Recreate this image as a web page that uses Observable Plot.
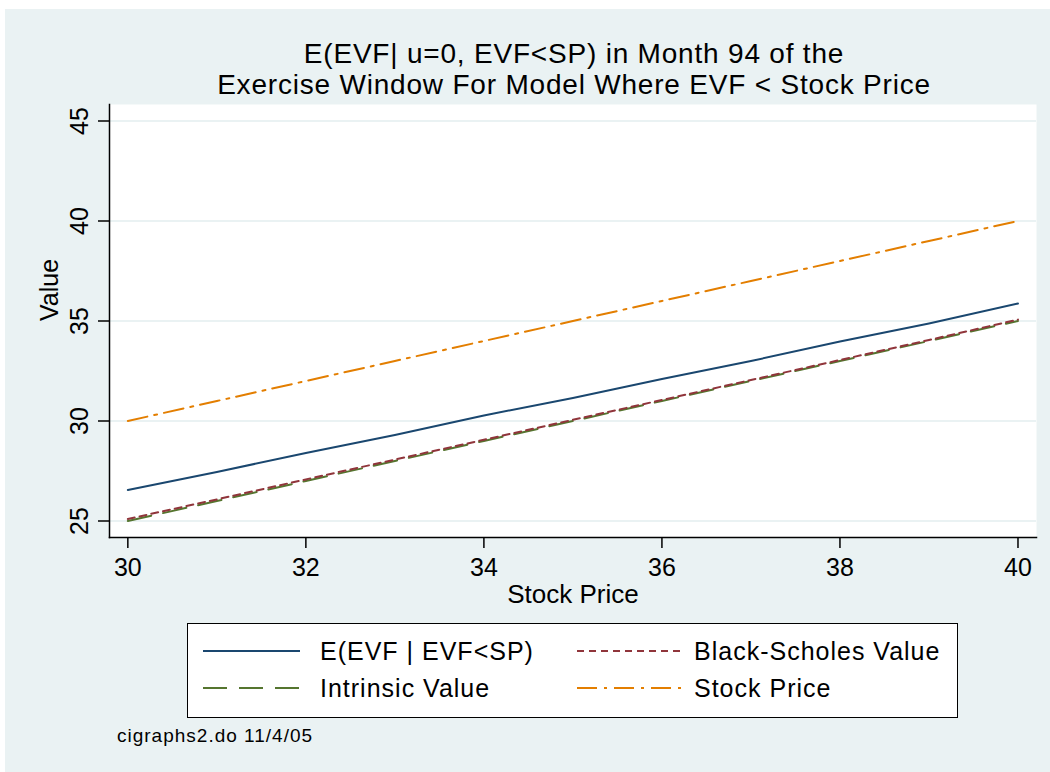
<!DOCTYPE html>
<html>
<head>
<meta charset="utf-8">
<script src="https://cdn.jsdelivr.net/npm/d3@7"></script>
<script src="https://cdn.jsdelivr.net/npm/@observablehq/plot@0.6"></script>
<style>
  body { margin: 0; background: #ffffff; width: 1050px; height: 772px; overflow: hidden; position: relative; font-family: "Liberation Sans", Arial, Helvetica, sans-serif; }
  #bg { position: absolute; left: 5px; top: 9px; width: 1045px; height: 763px; background: #eaf2f3; }
  #title { position: absolute; left: 98px; top: 38px; width: 952px; text-align: center; font-size: 28px; letter-spacing: 0.8px; line-height: 31px; color: #000; }
  #chart { position: absolute; left: 0; top: 95px; }
  #legend { position: absolute; left: 187px; top: 623px; width: 769px; height: 93px; border: 1.5px solid #000; background: #fff; }
  .item { position: absolute; height: 30px; display: flex; align-items: center; font-size: 25px; letter-spacing: 1px; color: #000; white-space: nowrap; }
  #caption { position: absolute; left: 117px; top: 725px; font-size: 19px; letter-spacing: 1px; color: #000; }
</style>
</head>
<body>
<div id="bg"></div>
<div id="title">E(EVF| u=0, EVF&lt;SP) in Month 94 of the<br>Exercise Window For Model Where EVF &lt; Stock Price</div>
<div id="chart"></div>
<div id="legend"></div>
<div id="caption">cigraphs2.do 11/4/05</div>
<script>
// Data
const stockPrice = [30, 31, 32, 33, 34, 35, 36, 37, 38, 39, 40];
const evfValue   = [26.55, 27.45, 28.4, 29.3, 30.28, 31.15, 32.1, 33.0, 33.97, 34.87, 35.87];
const bsValue    = [25.1, 26.08, 27.08, 28.07, 29.06, 30.06, 31.05, 32.05, 33.05, 34.05, 35.07];
const intrinsic  = [25.0, 26.0, 27.0, 28.0, 29.0, 30.0, 31.0, 32.0, 33.0, 34.0, 35.0];
const spValue    = [30.0, 31.0, 32.0, 33.0, 34.0, 35.0, 36.0, 37.0, 38.0, 39.0, 40.0];
const seriesNames = ["E(EVF | EVF<SP)", "Black-Scholes Value", "Intrinsic Value", "Stock Price"];
const xTicks = [30, 32, 34, 36, 38, 40];
const yTicks = [25, 30, 35, 40, 45];

const styles = {
  "E(EVF | EVF<SP)":     {stroke: "#1a476f", dash: null},
  "Black-Scholes Value": {stroke: "#90353b", dash: "7,5"},
  "Intrinsic Value":     {stroke: "#55752f", dash: "24,12"},
  "Stock Price":         {stroke: "#e37e00", dash: "20,7,3,7"}
};

const seriesValues = [evfValue, bsValue, intrinsic, spValue];
const rows = [];
seriesNames.forEach((name, i) => {
  stockPrice.forEach((x, j) => rows.push({series: name, x, y: seriesValues[i][j]}));
});

const font = '"Liberation Sans", Arial, Helvetica, sans-serif';
const drawOrder = ["Stock Price", "Intrinsic Value", "Black-Scholes Value", "E(EVF | EVF<SP)"];

const plot = Plot.plot({
  width: 1050,
  height: 525,
  marginLeft: 109,
  marginRight: 14,
  marginTop: 9,
  marginBottom: 83,
  style: {background: "transparent", fontFamily: font, color: "#000", overflow: "visible"},
  x: {domain: [29.794, 40.208]},
  y: {domain: [24.175, 45.825]},
  marks: [
    Plot.frame({fill: "#ffffff", stroke: null}),
    Plot.gridY(yTicks, {stroke: "#eaf2f3", strokeOpacity: 1, strokeWidth: 2}),
    ...drawOrder.map(name => Plot.line(rows.filter(d => d.series === name), {
      x: "x", y: "y", stroke: styles[name].stroke, strokeWidth: 2,
      strokeDasharray: styles[name].dash, curve: "linear"
    })),
    Plot.frame({anchor: "left", stroke: "#000", strokeWidth: 1.5}),
    Plot.frame({anchor: "bottom", stroke: "#000", strokeWidth: 1.5}),
    Plot.axisX(xTicks, {tickSize: 11, tickPadding: 10, fontSize: 25, label: null, strokeWidth: 1.5}),
    Plot.axisY(yTicks, {tickSize: 11, tickPadding: 11, fontSize: 25, tickRotate: -90, label: null, strokeWidth: 1.5}),
    Plot.text(["Value"], {frameAnchor: "left", dx: -60, rotate: -90, fontSize: 25, text: d => d, fill: "#000"}),
    Plot.text(["Stock Price"], {frameAnchor: "bottom", dy: 65, fontSize: 26, text: d => d, fill: "#000", style: "letter-spacing:0.5px"})
  ]
});
document.getElementById("chart").appendChild(plot);

// Legend
const legend = document.getElementById("legend");
const legendPos = [
  {left: 15, top: 12, w: 97, gap: 20},
  {left: 389, top: 12, w: 108, gap: 9},
  {left: 15, top: 49, w: 97, gap: 20},
  {left: 389, top: 49, w: 108, gap: 9}
];
seriesNames.forEach((name, i) => {
  const p = legendPos[i];
  const div = document.createElement("div");
  div.className = "item";
  div.style.left = p.left + "px";
  div.style.top = p.top + "px";
  const st = styles[name];
  div.innerHTML = `<svg width="${p.w}" height="4" style="margin-right:${p.gap}px"><line x1="0" y1="2" x2="${p.w}" y2="2" stroke="${st.stroke}" stroke-width="2" ${st.dash ? `stroke-dasharray="${st.dash}"` : ""}/></svg>`;
  const span = document.createElement("span");
  span.textContent = name;
  div.appendChild(span);
  legend.appendChild(div);
});
</script>
</body>
</html>
